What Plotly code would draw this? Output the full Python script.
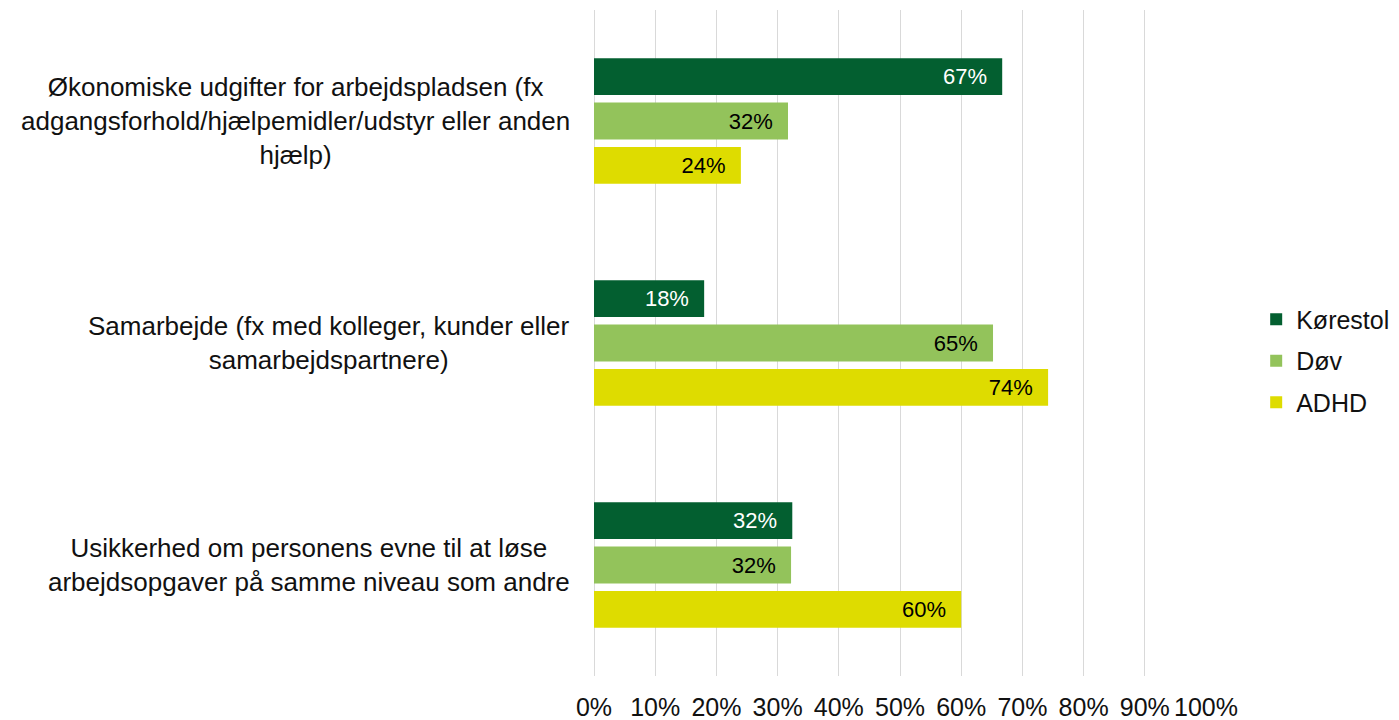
import plotly.graph_objects as go

# kategorier (rækkefølge oppefra og ned)
categories = [
    "Økonomiske udgifter for arbejdspladsen (fx<br>adgangsforhold/hjælpemidler/udstyr eller anden<br>hjælp)",
    "Samarbejde (fx med kolleger, kunder eller<br>samarbejdspartnere)",
    "Usikkerhed om personens evne til at løse<br>arbejdsopgaver på samme niveau som andre",
]
cat_keys = ["c1", "c2", "c3"]

series_names = ["Kørestol", "Døv", "ADHD"]
koerestol = [0.667, 0.18, 0.324]
doev = [0.317, 0.652, 0.322]
adhd = [0.24, 0.742, 0.60]
series_values = [koerestol, doev, adhd]

colors = ["#035F30", "#93C35B", "#DEDC00"]
text_colors = ["white", "black", "black"]

x_ticks = [i / 10 for i in range(11)]
x_ticklabels = [f"{i * 10}%" for i in range(11)]

FONT = "Liberation Sans, Arial, sans-serif"
TXT = "#111111"

fig = go.Figure()
for name, vals, col, tcol in zip(series_names, series_values, colors, text_colors):
    fig.add_trace(go.Bar(
        y=cat_keys, x=vals, name=name, orientation="h",
        legendgroup=name,
        marker=dict(color=col, line=dict(width=0)),
        texttemplate="%{x:.0%}\u00a0\u00a0",
        textposition="inside", insidetextanchor="end",
        textfont=dict(color=tcol, size=22, family=FONT),
        constraintext="none",
    ))

# kategori-tekster som centrerede annotationer
for key, label in zip(cat_keys, categories):
    fig.add_annotation(
        x=-0.036, xref="paper", y=key, yref="y",
        text=label, showarrow=False, xanchor="right", align="center",
        font=dict(size=26, color=TXT, family=FONT),
    )

# siden har 8px body-margin, derfor lidt mindre figur
fig.update_layout(
    width=1391, height=712,
    margin=dict(l=586, r=193, t=2, b=44, autoexpand=False),
    paper_bgcolor="white", plot_bgcolor="white",
    barmode="group", bargap=0.40, bargroupgap=0.17,
    font=dict(family=FONT, size=22, color=TXT),
    showlegend=True,
    legend=dict(
        x=1.082, xanchor="left", y=0.473, yanchor="middle",
        font=dict(size=25, family=FONT, color=TXT),
        traceorder="grouped", itemwidth=30, tracegroupgap=6,
    ),
    xaxis=dict(
        range=[0, 1], tickvals=x_ticks, ticktext=x_ticklabels,
        tickangle=0,
        showgrid=True, gridcolor="#d9d9d9", gridwidth=1,
        zeroline=True, zerolinecolor="#d9d9d9", zerolinewidth=1,
        showline=False,
        ticks="outside", ticklen=9, tickcolor="rgba(0,0,0,0)",
        tickfont=dict(size=25, family=FONT, color=TXT),
    ),
    yaxis=dict(
        categoryorder="array", categoryarray=cat_keys,
        autorange="reversed", showticklabels=False,
        showgrid=False, zeroline=False, showline=False,
    ),
)

fig.write_html("out.html")
